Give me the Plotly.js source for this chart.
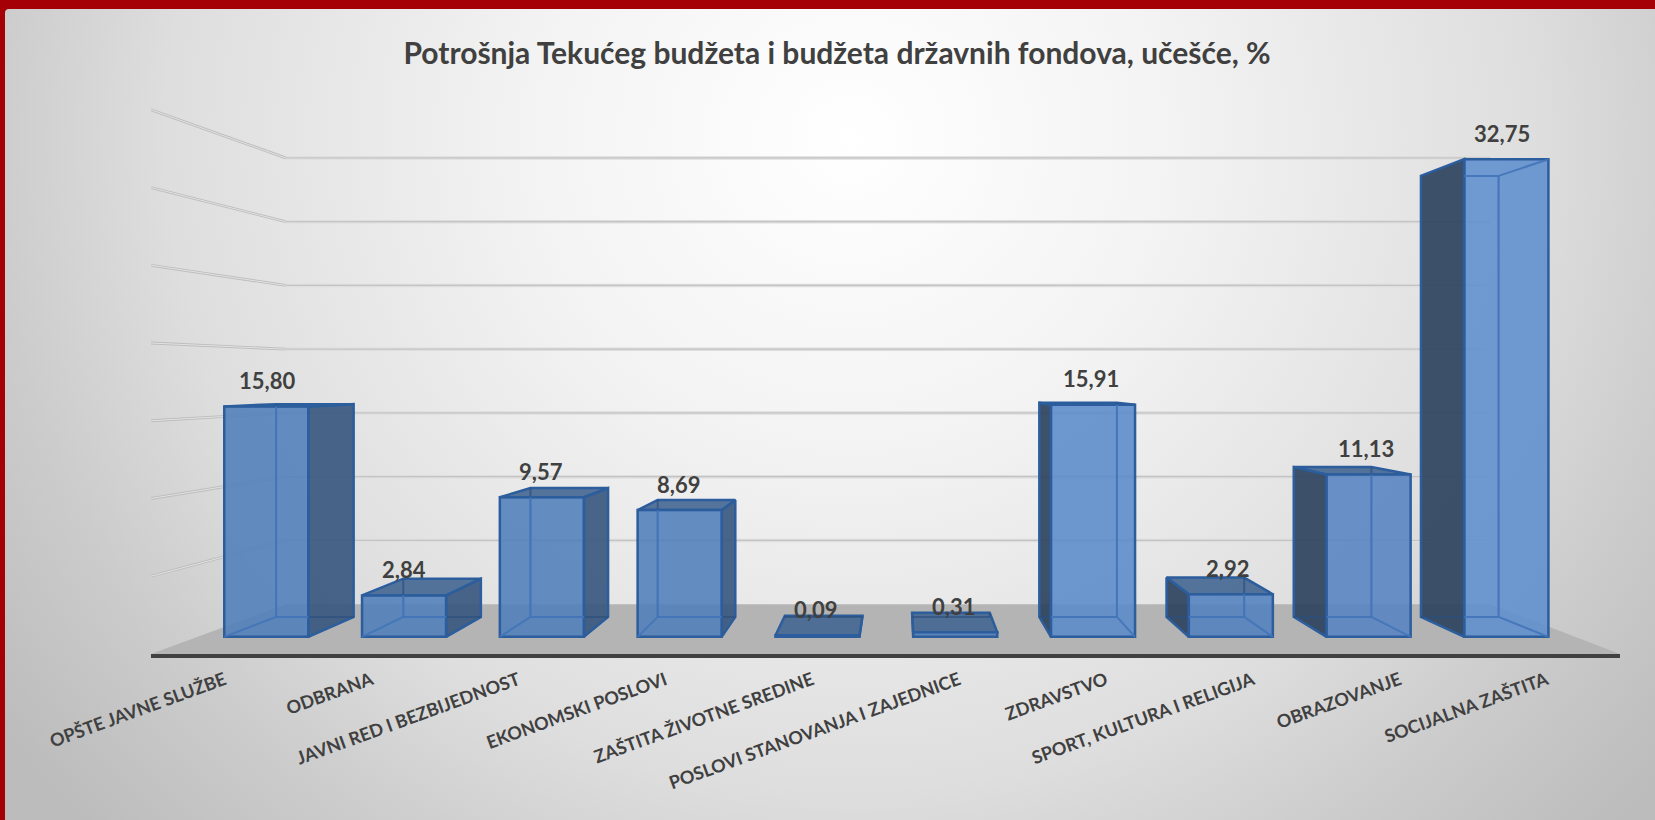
<!DOCTYPE html>
<html>
<head>
<meta charset="utf-8">
<script src="https://cdn.plot.ly/plotly-3.0.1.min.js"></script>
<style>
html,body{margin:0;padding:0;width:1655px;height:820px;overflow:hidden;background:#a50006}
#bg{position:absolute;left:5px;top:9px;right:0;bottom:0;border-top-left-radius:4px;
background:radial-gradient(ellipse 1050px 1000px at 845px 130px,#ffffff 0%,#f3f3f3 31%,#ebebeb 44%,#dedede 65%,#cccccc 82%,#bcbcbc 100%)}
#chart{position:absolute;left:0;top:0;width:1655px;height:820px}
</style>
</head>
<body>
<div id="bg"></div>
<div id="chart"></div>
<script>
const categories = ['OPŠTE JAVNE SLUŽBE','ODBRANA','JAVNI RED I BEZBIJEDNOST','EKONOMSKI POSLOVI','ZAŠTITA ŽIVOTNE SREDINE','POSLOVI STANOVANJA I ZAJEDNICE','ZDRAVSTVO','SPORT, KULTURA I RELIGIJA','OBRAZOVANJE','SOCIJALNA ZAŠTITA'];
const values = [15.80,2.84,9.57,8.69,0.09,0.31,15.91,2.92,11.13,32.75];
const gridValues = [5,10,15,20,25,30,35];
const titleText = 'Potrošnja Tekućeg budžeta i budžeta državnih fondova, učešće, %';

// view of the 3-D box: a vanishing point in axis units, and the scale of each depth plane
const VX = 4.592, VY = 17.80;
const S_FRONT = 0.938, S_BACK = 0.866, S_WALL = 0.82;
const HALF = 0.305;
const XR = [-0.5, 9.5], YR = [0, 42.06];
const P = (x, y, s) => [VX + s * (x - VX), VY + s * (y - VY)];
const xs = categories.map((_, i) => i);
const R = S_BACK / S_FRONT;

function poly(lists, name, fill, line, w) {
  const x = [], y = [];
  lists.forEach(pts => { pts.forEach(p => { x.push(p[0]); y.push(p[1]); }); x.push(pts[0][0]); y.push(pts[0][1]); x.push(null); y.push(null); });
  return {type:'scatter', mode:'lines', x, y, fill:'toself', fillcolor:fill, line:{color:line, width:w}, hoverinfo:'skip', showlegend:false, name};
}
function lines(lists, color, w, ax) {
  const x = [], y = [];
  lists.forEach(pts => { pts.forEach(p => { x.push(p[0]); y.push(p[1]); }); x.push(null); y.push(null); });
  return Object.assign({type:'scatter', mode:'lines', x, y, line:{color, width:w}, hoverinfo:'skip', showlegend:false}, ax || {});
}

const floor = [P(XR[0],0,1), P(XR[1],0,1), P(XR[1],0,S_WALL), P(XR[0],0,S_WALL)];
const wallBack = gridValues.map(g => [P(XR[0],g,S_WALL), P(XR[1],g,S_WALL)]);
const wallSide = gridValues.map(g => [P(XR[0],g,1), P(XR[0],g,S_WALL)]);

const rightFaces = [], leftFaces = [], topFaces = [], hidden = [], inner = [];
xs.forEach((c, i) => {
  const v = values[i], L = c - HALF, Rt = c + HALF;
  const f = (x, y) => P(x, y, S_FRONT), b = (x, y) => P(x, y, S_BACK);
  if (b(Rt,0)[0] > f(Rt,0)[0]) rightFaces.push([f(Rt,0), b(Rt,0), b(Rt,v), f(Rt,v)]);
  if (b(L,0)[0] < f(L,0)[0]) leftFaces.push([f(L,0), b(L,0), b(L,v), f(L,v)]);
  if (v < VY) topFaces.push([f(L,v), f(Rt,v), b(Rt,v), b(L,v)]);
  hidden.push([b(L,0), b(Rt,0)]);
  // edges of the box seen through the front face, in the plane of the front face
  const q = (x, y) => P(x, y, R);
  const qL = q(L,0)[0], qR = q(Rt,0)[0];
  const cl = Math.max(qL, L), cr = Math.min(qR, Rt);
  const backBase = q(L,0)[1];
  const visible = backBase < v;      // the back of the floor lies inside the front face
  if (visible) inner.push([[cl, backBase], [cr, backBase]]);
  const topY = Math.min(q(L,v)[1], v);
  [[L,qL],[Rt,qR]].forEach(([fx,qx]) => {
    if (qx >= L && qx <= Rt) {
      if (visible) {
        inner.push([[qx, backBase], [qx, topY]]);
        inner.push([[fx, 0], [qx, backBase]]);
      }
      if (v > VY) inner.push([[fx, v], [qx, q(L,v)[1]]]);
      hidden.push([b(fx,0), b(fx,v)]);
    }
  });
  if (v > VY) inner.push([[cl, q(L,v)[1]], [cr, q(L,v)[1]]]);
});

const ov = {xaxis:'x2', yaxis:'y2'};
const barColors = ['rgba(80,126,186,.88)','rgba(80,126,186,.88)','rgba(80,126,186,.88)','rgba(80,126,186,.88)','rgba(80,126,186,.88)','rgba(80,126,186,.88)','rgba(90,138,202,.88)','rgba(82,129,191,.88)','rgba(86,132,194,.88)','rgba(94,142,206,.88)'];
const traces = [
  poly([floor], 'floor', '#b4b4b4', 'rgba(0,0,0,0)', 0),
  lines(wallSide, '#bdbdbd', 2.8),
  lines(wallSide, '#e2e2e2', 1),
  lines(wallBack, '#dedede', 3.5),
  lines(wallBack, '#c4c4c4', 1.2),
  poly(rightFaces, 'right', 'rgba(57,89,128,.92)', '#2c5d9c', 2.5),
  poly(leftFaces, 'left', 'rgba(46,67,95,.92)', '#2c5d9c', 2.5),
  poly(topFaces, 'top', 'rgba(66,102,146,.9)', '#2c5d9c', 2.5),
  lines(hidden, 'rgba(44,80,125,.7)', 2),
  Object.assign({type:'bar', x:xs, y:values, width:2*HALF, marker:{color:barColors, line:{color:'#2c5d9c', width:2.5}}, hoverinfo:'skip', showlegend:false, name:'Učešće, %', cliponaxis:false}, ov),
  lines(inner, 'rgba(66,116,184,.9)', 2, ov)
];

const fmt = v => v.toFixed(2).replace('.', ',');
const labelNudge = [1,0,-1,-1,-2,-2,-2,-3,-3,-4];
const annotations = values.map((v, i) => ({
  xref:'x2', yref:'y2', x:i, y:v, text:fmt(v), showarrow:false, yanchor:'middle', xanchor:'center', yshift:26, xshift:labelNudge[i],
  font:{family:'Lato, sans-serif', size:22, color:'#404040', weight:'bold'}
}));

const x2 = XR.map(a => VX + (a - VX) / S_FRONT), y2 = YR.map(a => VY + (a - VY) / S_FRONT);

const layout = {
  width:1655, height:820,
  margin:{l:151, r:35, t:0, b:165.5, pad:0},
  paper_bgcolor:'rgba(0,0,0,0)', plot_bgcolor:'rgba(0,0,0,0)',
  showlegend:false, barmode:'overlay',
  title:{text:titleText, x:837/1655, xanchor:'center', y:1-53/820, yanchor:'middle', font:{family:'Lato, sans-serif', size:30, color:'#404040', weight:'bold'}},
  xaxis:{range:XR, tickmode:'array', tickvals:xs, ticktext:categories, tickangle:-20, showgrid:false, zeroline:false, showline:true, linecolor:'#404040', linewidth:4, ticks:'', ticklen:0, ticklabelstandoff:5,
    tickfont:{family:'Lato, sans-serif', size:18, color:'#404040', weight:'bold'}},
  yaxis:{range:YR, visible:false, showgrid:false, zeroline:false},
  xaxis2:{range:x2, overlaying:'x', visible:false, anchor:'y2'},
  yaxis2:{range:y2, overlaying:'y', visible:false, anchor:'x2'},
  annotations
};
Plotly.newPlot('chart', traces, layout, {displayModeBar:false, staticPlot:true});
</script>
</body>
</html>
